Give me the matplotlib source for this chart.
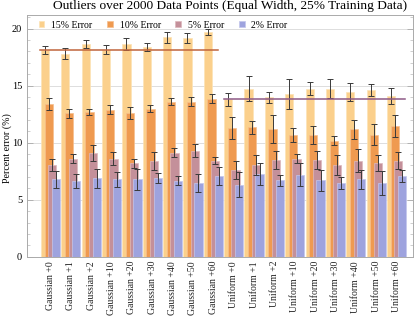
import matplotlib
matplotlib.use('Agg')
import matplotlib.pyplot as plt
import numpy as np

# ---- data ----
labels = ['Gaussian +0', 'Gaussian +1', 'Gaussian +2', 'Gaussian +10', 'Gaussian +20',
          'Gaussian +30', 'Gaussian +40', 'Gaussian +50', 'Gaussian +60',
          'Uniform +0', 'Uniform +1', 'Uniform +2', 'Uniform +10', 'Uniform +20',
          'Uniform +30', 'Uniform +40', 'Uniform +50', 'Uniform +60']
series = ['15% Error', '10% Error', '5% Error', '2% Error']

err15 = [18.13, 17.78, 18.65, 18.13, 18.65, 18.36, 19.24, 19.18, 19.70,
         13.80, 14.74, 13.98, 14.27, 14.74, 14.74, 14.44, 14.62, 14.09]
sd15 = [0.35, 0.48, 0.35, 0.40, 0.53, 0.35, 0.50, 0.40, 0.30,
        0.55, 1.10, 0.50, 1.33, 0.60, 0.82, 0.82, 0.50, 0.70]
err10 = [13.39, 12.57, 12.69, 12.89, 12.57, 12.98, 13.60, 13.60, 13.86,
         11.29, 11.34, 11.17, 10.70, 10.70, 10.18, 11.17, 10.70, 11.46]
sd10 = [0.55, 0.40, 0.28, 0.42, 0.53, 0.30, 0.30, 0.40, 0.40,
        1.00, 0.58, 1.23, 0.60, 0.80, 0.40, 0.82, 0.90, 0.94]
err5 = [8.07, 8.60, 9.12, 8.60, 8.19, 8.42, 9.12, 9.30, 8.42,
        7.60, 8.07, 8.48, 8.60, 8.48, 8.07, 8.42, 8.19, 8.42]
sd5 = [0.53, 0.40, 0.70, 0.60, 0.40, 0.80, 0.40, 0.58, 0.30,
       0.82, 0.88, 0.80, 0.40, 0.80, 0.88, 1.00, 0.70, 0.76]
err2 = [6.78, 6.67, 6.87, 6.78, 6.78, 6.87, 6.67, 6.46, 7.08,
        6.32, 7.25, 6.70, 7.19, 6.70, 6.46, 6.78, 6.46, 7.08]
sd2 = [0.73, 0.60, 0.80, 0.63, 0.92, 0.44, 0.40, 0.80, 0.80,
       1.10, 1.00, 0.50, 1.00, 0.90, 0.56, 0.82, 1.08, 0.53]

gauss_ref = 18.15   # reference line over the Gaussian groups
unif_ref = 13.86    # reference line over the Uniform groups

# ---- style ----
colors = ['#fbd08c', '#ef9a50', '#c4909a', '#9ea3de']
edges = ['#fde3b6', '#f6bf8e', '#dcb8bd', '#c3c6ec']
line_g = '#c0643c'
line_u = '#8e5a86'
FONT = 'Liberation Serif'

fig = plt.figure(figsize=(4.15, 3.17), dpi=100)
ax = fig.add_axes([0.065, 0.19, 0.93, 0.763])

x = np.arange(len(labels))
W = 0.40
OFF = 0.18
vals = [err15, err10, err5, err2]
sds = [sd15, sd10, sd5, sd2]
for k in range(4):
    xs = x - 0.47 + W / 2 + k * OFF
    ax.bar(xs, vals[k], W, color=colors[k], edgecolor=edges[k], linewidth=0.5,
           label=series[k], zorder=2 + k)
    ax.errorbar(xs, vals[k], yerr=sds[k], fmt='none', ecolor='#3a3a3a',
                elinewidth=0.7, capsize=2, capthick=0.7, zorder=10)

ax.plot([-0.5, 8.25], [gauss_ref, gauss_ref], color=line_g, lw=1.1, zorder=11)
ax.plot([8.5, 17.4], [unif_ref, unif_ref], color=line_u, lw=1.1, zorder=11)

ax.set_xlim(-1.16, 17.81)
ax.set_ylim(0, 21.2)

ax.set_yticks([0, 5, 10, 15, 20])
ax.set_yticks(np.arange(0, 21.2, 1), minor=True)
ax.grid(axis='y', which='major', color='#dddddd', lw=0.7, zorder=0)
ax.set_xticks(x)
ax.set_xticklabels(labels, rotation=90, fontsize=7, family=FONT, color='#222222')
ax.tick_params(axis='x', length=0, pad=3)
ax.tick_params(axis='y', which='major', length=4, width=0.6, color='#aaaaaa',
               labelsize=7.5, right=True, direction='in')
ax.tick_params(axis='y', which='minor', length=2, width=0.5, color='#bbbbbb',
               right=True, direction='in')
for lab in ax.get_yticklabels():
    lab.set_family(FONT)
for s in ax.spines.values():
    s.set_color('#aaaaaa')
    s.set_linewidth(0.7)

ax.set_ylabel('Percent error (%)', fontsize=7.2, family=FONT)
ax.yaxis.set_label_coords(-0.04, 0.45)
ax.set_title('Outliers over 2000 Data Points (Equal Width, 25% Training Data)',
             fontsize=9.6, family=FONT, pad=4, x=0.527)

leg = ax.legend(loc='upper left', ncol=4, frameon=False,
                prop={'family': FONT, 'size': 7}, handlelength=0.6,
                handleheight=0.6, handletextpad=0.7, columnspacing=1.5,
                borderaxespad=0.2, bbox_to_anchor=(0.015, 1.0))

fig.savefig('out.png', dpi=100)
